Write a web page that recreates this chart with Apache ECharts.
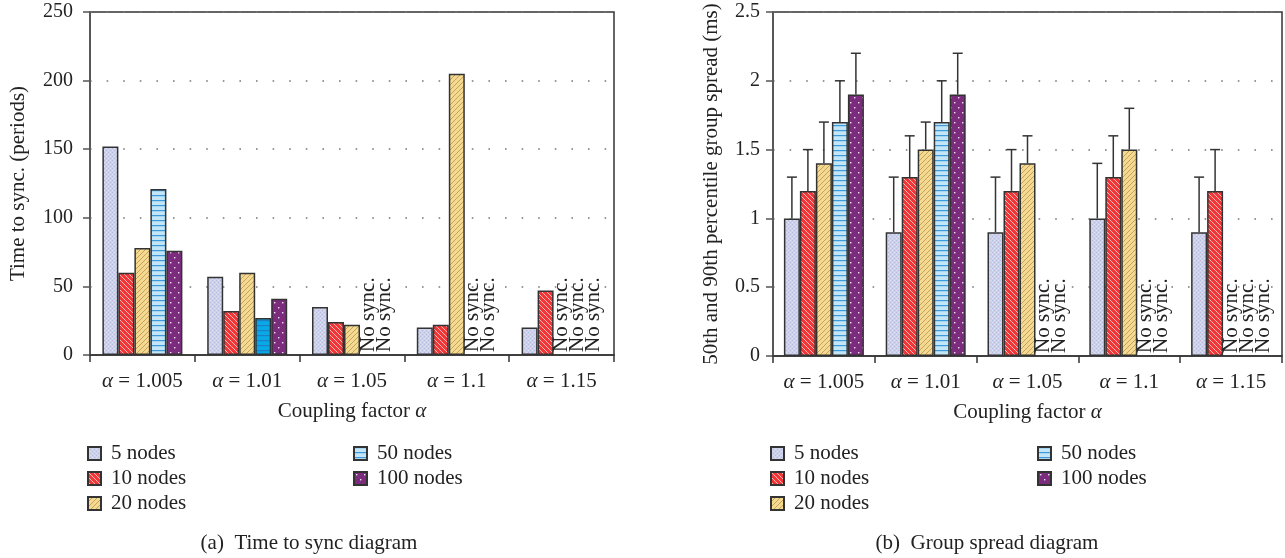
<!DOCTYPE html>
<html>
<head>
<meta charset="utf-8">
<script src="https://cdn.jsdelivr.net/npm/echarts@6/dist/echarts.min.js"></script>
<style>
  html, body { margin: 0; padding: 0; background: #fff; }
  #chart { width: 1285px; height: 558px; }
</style>
</head>
<body>
<div id="chart"></div>
<script>
"use strict";

/* ── data ── */
const CATS   = ["1.005", "1.01", "1.05", "1.1", "1.15"];
const NAMES  = ["5 nodes", "10 nodes", "20 nodes", "50 nodes", "100 nodes"];

// (a) time to sync, null = "No sync."
const SYNC_5   = [152, 57, 35, 20, 20];
const SYNC_10  = [60, 32, 24, 22, 47];
const SYNC_20  = [78, 60, 22, 205, null];
const SYNC_50  = [121, 27, null, null, null];
const SYNC_100 = [76, 41, null, null, null];

// (b) group spread: 50th percentile (bar) and 90th percentile (error bar top)
const P50_5   = [1.0, 0.9, 0.9, 1.0, 0.9];
const P50_10  = [1.2, 1.3, 1.2, 1.3, 1.2];
const P50_20  = [1.4, 1.5, 1.4, 1.5, null];
const P50_50  = [1.7, 1.7, null, null, null];
const P50_100 = [1.9, 1.9, null, null, null];

const P90_5   = [1.3, 1.3, 1.3, 1.4, 1.3];
const P90_10  = [1.5, 1.6, 1.5, 1.6, 1.5];
const P90_20  = [1.7, 1.7, 1.6, 1.8, null];
const P90_50  = [2.0, 2.0, null, null, null];
const P90_100 = [2.2, 2.2, null, null, null];

const SYNC_AXIS   = { min: 0, max: 250, interval: 50 };
const SPREAD_AXIS = { min: 0, max: 2.5, interval: 0.5 };

const SYNC   = [SYNC_5, SYNC_10, SYNC_20, SYNC_50, SYNC_100];
const P50    = [P50_5, P50_10, P50_20, P50_50, P50_100];
const P90    = [P90_5, P90_10, P90_20, P90_50, P90_100];

/* ── style ── */
const FONT  = "Liberation Serif";
const FS    = 21;
const FS_TICK = 20;
const INK   = "#222";
const BAR_W = 16;

function makePattern(w, h, base, draw) {
  const c = document.createElement("canvas");
  c.width = w; c.height = h;
  const g = c.getContext("2d");
  g.fillStyle = base;
  g.fillRect(0, 0, w, h);
  draw(g, w, h);
  return { image: c, repeat: "repeat" };
}

const PAT_5 = makePattern(4, 4, "#cdd2ea", (g) => {
  g.fillStyle = "#b6bcdf";
  g.fillRect(0, 0, 1, 1); g.fillRect(2, 2, 1, 1);
  g.fillStyle = "#dde0f2";
  g.fillRect(2, 0, 1, 1); g.fillRect(0, 2, 1, 1);
});
const PAT_10 = makePattern(5, 5, "#f03636", (g, s) => {
  g.strokeStyle = "rgba(255,225,225,0.85)"; g.lineWidth = 0.9;
  for (let k = -1; k <= 1; k++) {
    g.beginPath(); g.moveTo(-s, -s + k * s); g.lineTo(2 * s, 2 * s + k * s); g.stroke();
  }
});
const PAT_20 = makePattern(5, 5, "#f4da90", (g, s) => {
  g.strokeStyle = "#c29a58"; g.lineWidth = 0.9;
  for (let k = 0; k <= 2; k++) {
    g.beginPath(); g.moveTo(-s, k * s + s); g.lineTo(2 * s, k * s - 2 * s); g.stroke();
  }
});
const PAT_50 = makePattern(4, 5, "#c2e6f8", (g) => {
  g.fillStyle = "#3f98d8"; g.fillRect(0, 0, 4, 1.2);
});
const PAT_50_DARK = makePattern(4, 5, "#09a9e8", (g) => {
  g.fillStyle = "#1b7fc4"; g.fillRect(0, 0, 4, 1.2);
});
const PAT_100 = makePattern(8, 10, "#7b2c7c", (g) => {
  g.fillStyle = "#f2e4f2";
  g.fillRect(2, 2, 1.4, 1.4); g.fillRect(6, 7, 1.4, 1.4);
});
const PATS = [PAT_5, PAT_10, PAT_20, PAT_50, PAT_100];
const DARK_ITEM = { series: 3, cat: 1 };  // the solid blue bar in (a)

const noSyncLabel = {
  show: true, formatter: "No sync.", position: "insideBottom", distance: 3,
  rotate: 90, align: "left", verticalAlign: "middle",
  fontFamily: FONT, fontSize: FS, color: INK
};

function barData(vals, si, chart) {
  return vals.map((v, ci) => {
    if (v === null) {
      return { value: 0, itemStyle: { color: "transparent", borderWidth: 0 }, label: noSyncLabel };
    }
    if (chart === 0 && si === DARK_ITEM.series && ci === DARK_ITEM.cat) {
      return { value: v, itemStyle: { color: PAT_50_DARK } };
    }
    return v;
  });
}

function barSeries(chart) {
  const src = chart === 0 ? SYNC : P50;
  return NAMES.map((name, si) => ({
    name, type: "bar",
    xAxisIndex: chart, yAxisIndex: chart,
    barWidth: BAR_W, barGap: "0%",
    itemStyle: { color: PATS[si], borderColor: "#333", borderWidth: 1.5 },
    data: barData(src[si], si, chart),
    z: 2
  }));
}

const errData = [];
P90.forEach((arr, si) => arr.forEach((up, ci) => {
  if (up !== null) errData.push([ci, P50[si][ci], up, si]);
}));

const axisText = { fontFamily: FONT, fontSize: FS, color: INK };
const italicA  = { a: { fontFamily: FONT, fontSize: FS, fontStyle: "italic", color: INK } };

function xAxis(gi) {
  return {
    type: "category", gridIndex: gi, data: CATS,
    axisLine: { lineStyle: { color: "#333", width: 1.5 } },
    axisTick: { show: true, length: 7, lineStyle: { color: "#333", width: 1.5 } },
    axisLabel: Object.assign({}, axisText, {
      interval: 0, margin: 16, formatter: (v) => "{a|α} = " + v, rich: italicA
    }),
    name: "Coupling factor {a|α}", nameLocation: "middle", nameGap: 46,
    nameTextStyle: Object.assign({}, axisText, { rich: italicA })
  };
}

function yAxis(gi, range, name, gap, margin) {
  return Object.assign({
    type: "value", gridIndex: gi,
    axisLine: { show: true, lineStyle: { color: "#555", width: 1.5 } },
    axisTick: { show: true, length: 7, lineStyle: { color: "#555", width: 1.5 } },
    axisLabel: { fontFamily: FONT, fontSize: FS_TICK, color: INK, margin },
    splitLine: { show: true, lineStyle: { color: "#777", width: 1.6, type: [1.6, 15] } },
    name, nameLocation: "middle", nameGap: gap, nameRotate: 90,
    nameTextStyle: axisText
  }, range);
}

function legends(x1, x2) {
  const base = {
    orient: "vertical", top: 443, padding: 0,
    itemWidth: 13, itemHeight: 13, itemGap: 4,
    icon: "rect", selectedMode: false,
    textStyle: { fontFamily: FONT, fontSize: FS, color: INK, lineHeight: 21, padding: [0, 0, 0, 5] }
  };
  return [
    Object.assign({}, base, { left: x1, data: NAMES.slice(0, 3) }),
    Object.assign({}, base, { left: x2, data: NAMES.slice(3) })
  ];
}

const capStyle = (text) => ({
  text, font: FS + "px '" + FONT + "'", fill: INK, align: "center", verticalAlign: "middle"
});

const chart = echarts.init(document.getElementById("chart"));
chart.setOption({
  animation: false,
  backgroundColor: "#fff",
  grid: [
    { left: 90, right: 671, top: 12, bottom: 203, show: true, borderColor: "#333", borderWidth: 1.5 },
    { left: 773, right: 3, top: 12, bottom: 202, show: true, borderColor: "#333", borderWidth: 1.5 }
  ],
  xAxis: [xAxis(0), xAxis(1)],
  yAxis: [
    yAxis(0, SYNC_AXIS, "Time to sync. (periods)", 61, 17),
    yAxis(1, SPREAD_AXIS, "50th and 90th percentile group spread (ms)", 51, 13)
  ],
  legend: legends(87, 353).concat(legends(770, 1037)),
  graphic: [
    { type: "text", x: 309, y: 543, style: capStyle("(a)  Time to sync diagram") },
    { type: "text", x: 987, y: 543, style: capStyle("(b)  Group spread diagram") }
  ],
  series: barSeries(0).concat(barSeries(1), [{
    name: "p90", type: "custom", xAxisIndex: 1, yAxisIndex: 1, z: 3,
    encode: { x: 0, y: [1, 2] },
    data: errData,
    renderItem(params, api) {
      const ci = api.value(0), si = api.value(3);
      const p0 = api.coord([ci, api.value(1)]);
      const p1 = api.coord([ci, api.value(2)]);
      const x = p0[0] + (si - 2) * BAR_W;
      const st = { stroke: "#333", lineWidth: 1.5 };
      return {
        type: "group",
        children: [
          { type: "line", shape: { x1: x, y1: p0[1], x2: x, y2: p1[1] }, style: st },
          { type: "line", shape: { x1: x - 5, y1: p1[1], x2: x + 5, y2: p1[1] }, style: st }
        ]
      };
    }
  }])
});
</script>
</body>
</html>
